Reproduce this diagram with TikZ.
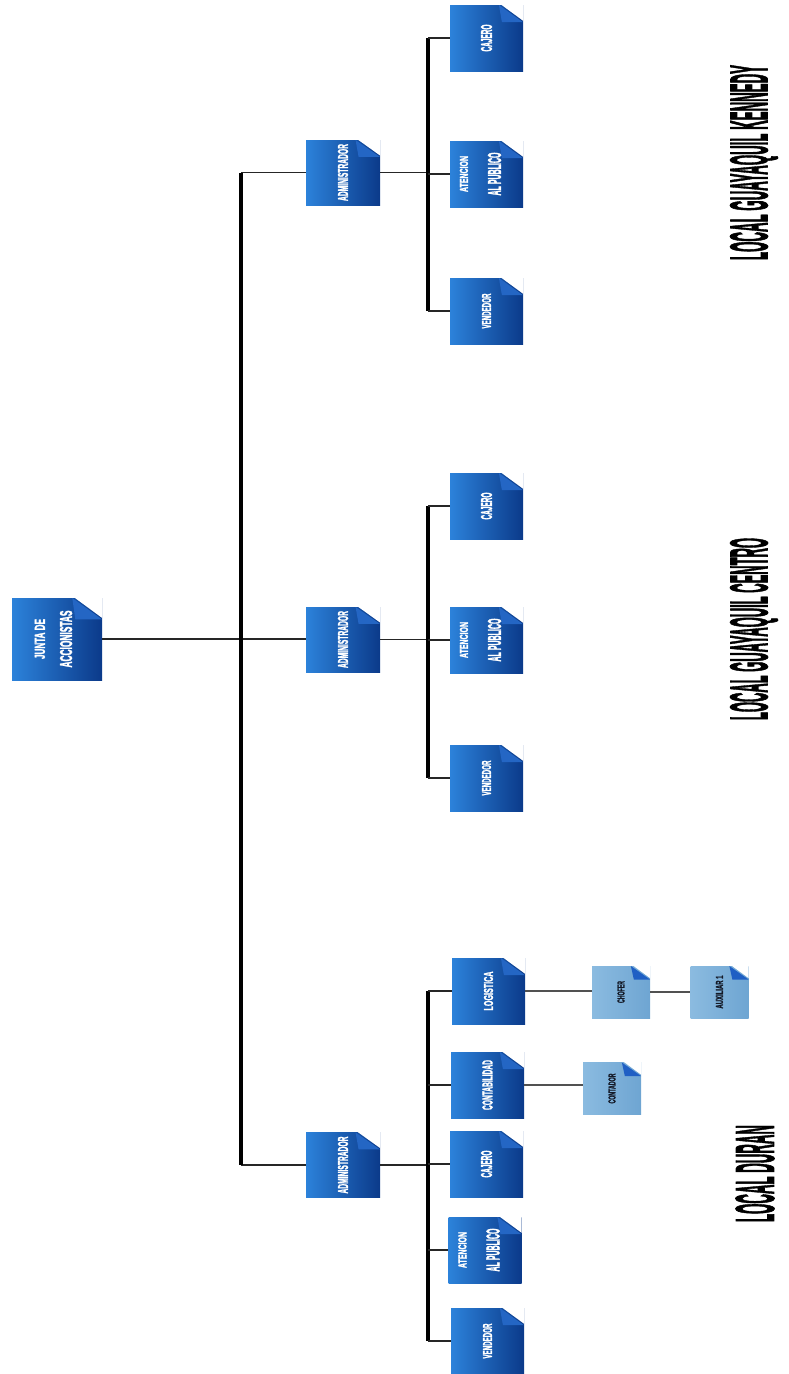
\documentclass[tikz,border=0pt]{standalone}
\usepackage{fontspec}
\usepackage{graphicx}
\usetikzlibrary{calc}
\newfontfamily\lblfam[BoldFeatures={FakeBold=2.5}]{Liberation Sans}
\newcommand\lblf{\lblfam\bfseries}
\newcommand\onel[3]{\rotatebox{90}{\resizebox{#1pt}{#2pt}{\lblf #3}}}
\newcommand\twol[8]{\rotatebox{90}{\vbox{\offinterlineskip\halign{\hfil##\hfil\cr\resizebox{#1pt}{#2pt}{\lblf #3}\cr\noalign{\kern#4pt}\resizebox{#5pt}{#6pt}{\lblf #7}\cr\noalign{\kern#8pt}}}}}
\definecolor{bL}{HTML}{2C82DA}
\definecolor{bR}{HTML}{0B3A8A}
\definecolor{bF}{HTML}{2466C4}
\definecolor{lL}{HTML}{8BBBE0}
\definecolor{lR}{HTML}{6EA5D2}
\definecolor{lF}{HTML}{1F5FC4}
\definecolor{lT}{HTML}{141A28}
\definecolor{lineC}{HTML}{262626}
\tikzset{
  foldcorner/.style={path picture={
    \path (path picture bounding box.north west) coordinate (pNW)
          (path picture bounding box.north east) coordinate (pNE)
          (path picture bounding box.south east) coordinate (pSE);
    \coordinate (pA) at ($(pNW)!0.67!(pNE)$);
    \coordinate (pB) at ($(pNE)!0.26!(pSE)$);
    \fill[white] ($(pA)+(0,-2)$) -- ($(pNE)+(2,-2)$) -- ($(pB)+(2,0)$) -- cycle;
    \fill[#1] (pA) -- (pB) -- ($(pA |- pB)+(3,0)$) -- cycle;
  }},
  docbox/.style={rectangle, inner sep=0pt, left color=bL, right color=bR, text=white, foldcorner=bF},
  lightbox/.style={rectangle, inner sep=0pt, left color=lL, right color=lR, text=lT, foldcorner=lF},
  rootsize/.style={minimum width=90pt, minimum height=82pt},
  adminsize/.style={minimum width=74pt, minimum height=65pt},
  childsize/.style={minimum width=73pt, minimum height=66pt},
  smallsize/.style={minimum width=58pt, minimum height=52pt},
  loclbl/.style={inner sep=0pt, text=black},
  bus/.style={line width=3.2pt, black},
  conn/.style={line width=1.4pt, lineC},
  thinconn/.style={line width=1.1pt, lineC!80},
}
\begin{document}
\begin{tikzpicture}[x=1pt, y=-1pt]
\useasboundingbox (0,0) rectangle (789,1374);

% root
\node[docbox, rootsize] (root) at (57,639) {\twol{40}{10}{JUNTA DE}{15}{57}{12}{ACCIONISTAS}{7}};

% administrators
\node[docbox, adminsize] (admK) at (343,172.5) {\onel{57}{10}{ADMINISTRADOR}};
\node[docbox, adminsize] (admC) at (343,639.5) {\onel{57}{10}{ADMINISTRADOR}};
\node[docbox, adminsize] (admD) at (343,1165) {\onel{57}{10}{ADMINISTRADOR}};

% Kennedy
\node[docbox, childsize] (cajK) at (486.5,38) {\onel{27}{11}{CAJERO}};
\node[docbox, childsize] (atK) at (486.5,174) {\twol{36}{8}{ATENCION}{20}{43}{13}{AL PUBLICO}{12}};
\node[docbox, childsize] (venK) at (486.5,311) {\onel{35}{9}{VENDEDOR}};

% Centro
\node[docbox, childsize] (cajC) at (486.5,506) {\onel{27}{11}{CAJERO}};
\node[docbox, childsize] (atC) at (486.5,640) {\twol{36}{8}{ATENCION}{20}{43}{13}{AL PUBLICO}{12}};
\node[docbox, childsize] (venC) at (486.5,778) {\onel{35}{9}{VENDEDOR}};

% Duran
\node[docbox, childsize] (logD) at (488.5,991) {\onel{39}{9}{LOGISTICA}};
\node[docbox, childsize] (conD) at (487.5,1085) {\onel{50}{10}{CONTABILIDAD}};
\node[docbox, childsize] (cajD) at (486.5,1164) {\onel{27}{11}{CAJERO}};
\node[docbox, childsize] (atD) at (485,1250) {\twol{36}{8}{ATENCION}{20}{43}{13}{AL PUBLICO}{12}};
\node[docbox, childsize] (venD) at (487.5,1341) {\onel{35}{9}{VENDEDOR}};

% light boxes
\node[lightbox, smallsize] (chof) at (621,992) {\onel{22}{7}{CHOFER}};
\node[lightbox, smallsize] (aux) at (719.5,992) {\onel{33}{7}{AUXILIAR 1}};
\node[lightbox, smallsize] (cont) at (612,1088.5) {\onel{30}{7}{CONTADOR}};

% location labels
\node[loclbl] (lblK) at (754,162.5) {\onel{195}{37}{LOCAL GUAYAQUIL KENNEDY}};
\node[loclbl] (lblC) at (754,629) {\onel{182}{37}{LOCAL GUAYAQUIL CENTRO}};
\node[loclbl] (lblD) at (755,1173.5) {\onel{97}{38}{LOCAL DURAN}};

% bus x positions
\coordinate (mx) at (241,0);
\coordinate (kx) at (428,0);

% main structure
\draw[conn] (root.east) -- (root.east -| admC.west);
\draw[conn] (admK.west) -- (admK.west -| mx);
\draw[conn] (admD.west) -- (admD.west -| mx);
\draw[bus] (admK.west -| mx) -- (admD.west -| mx);

% admin to child buses
\foreach \a in {admK,admC,admD} {
  \draw[conn] (\a.east) -- (\a.east -| kx);
}
\draw[bus] (cajK.west -| kx) -- (venK.west -| kx);
\draw[bus] (cajC.west -| kx) -- (venC.west -| kx);
\draw[bus] (logD.west -| kx) -- (venD.west -| kx);
\foreach \c in {cajK,atK,venK,cajC,atC,venC,logD,conD,cajD,atD,venD} {
  \draw[conn] (\c.west -| kx) -- (\c.west);
}

% sub-connectors
\draw[thinconn] (logD.east) -- (logD.east -| chof.west);
\draw[thinconn] (chof.east) -- (aux.west);
\draw[thinconn] (conD.east) -- (conD.east -| cont.west);
\end{tikzpicture}
\end{document}
